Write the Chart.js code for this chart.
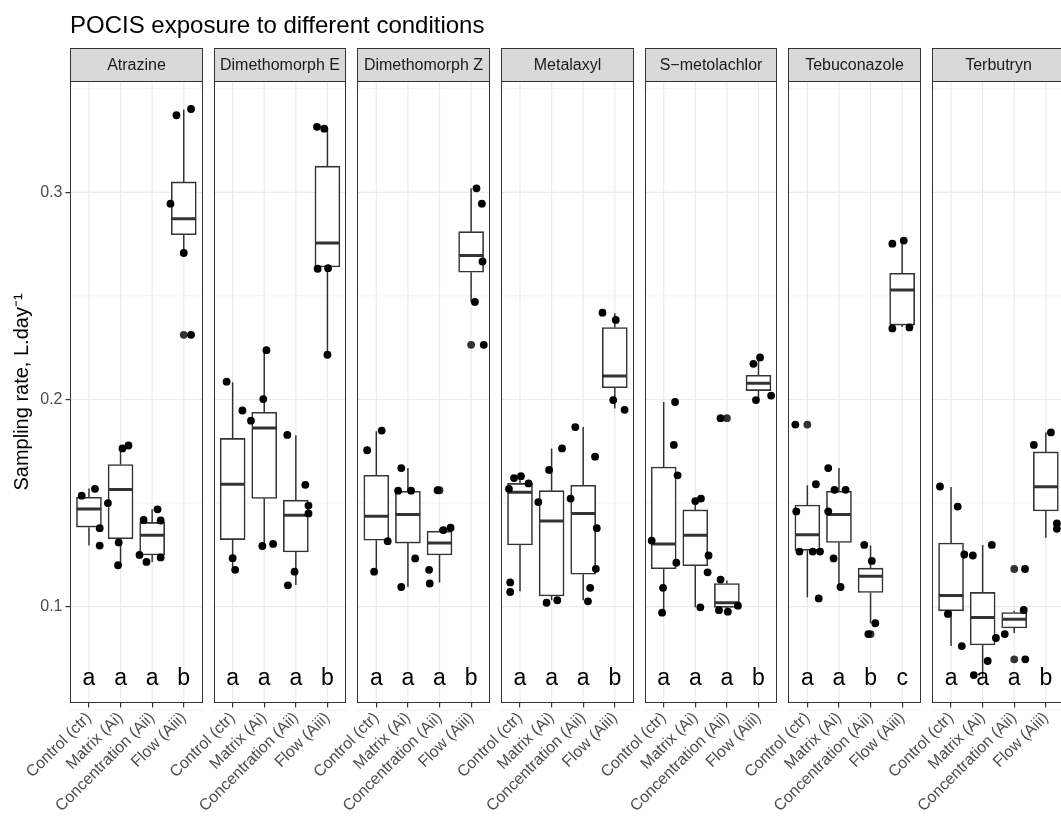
<!DOCTYPE html>
<html>
<head>
<meta charset="utf-8">
<script src="https://cdn.jsdelivr.net/npm/chart.js@4.4.1/dist/chart.umd.min.js"></script>
<style>
  html, body { margin: 0; padding: 0; background: #fff; overflow: hidden; }
  #wrap { width: 1080px; height: 820px; }
</style>
</head>
<body>
<div id="wrap"><canvas id="chart" width="1080" height="820"></canvas></div>
<script>
const chartTitle = 'POCIS exposure to different conditions';
const yTitle = 'Sampling rate, L.day\u207B\u00B9';
const compounds = ['Atrazine', 'Dimethomorph E', 'Dimethomorph Z', 'Metalaxyl', 'S\u2212metolachlor', 'Tebuconazole', 'Terbutryn'];
const conditions = ['Control (ctr)', 'Matrix (Ai)', 'Concentration (Aii)', 'Flow (Aiii)'];
const yTicks = [0.1, 0.2, 0.3];
const yMinorTicks = [0.05, 0.15, 0.25, 0.35];

// significance letters per compound, per condition
const letters = [
  ['a', 'a', 'a', 'b'],
  ['a', 'a', 'a', 'b'],
  ['a', 'a', 'a', 'b'],
  ['a', 'a', 'a', 'b'],
  ['a', 'a', 'a', 'b'],
  ['a', 'a', 'b', 'c'],
  ['a', 'a', 'a', 'b']
];
const letterY = 0.0622;

// box statistics, one row per compound, one column per condition
const q3Values = [
  [0.1528, 0.1686, 0.1407, 0.305],
  [0.1812, 0.1938, 0.1514, 0.3126],
  [0.1634, 0.1557, 0.1364, 0.281],
  [0.1595, 0.156, 0.1586, 0.2347],
  [0.1674, 0.1467, 0.1112, 0.2117],
  [0.1491, 0.1557, 0.1186, 0.2609],
  [0.1307, 0.1069, 0.0972, 0.1747]
];
const medianValues = [
  [0.1471, 0.1566, 0.1345, 0.2872],
  [0.1591, 0.1862, 0.1441, 0.2755],
  [0.1436, 0.1445, 0.1307, 0.2695],
  [0.1552, 0.1414, 0.145, 0.2114],
  [0.1303, 0.1345, 0.1019, 0.2078],
  [0.1347, 0.1445, 0.1147, 0.2528],
  [0.1054, 0.0948, 0.094, 0.1579]
];
const q1Values = [
  [0.1384, 0.1328, 0.125, 0.2795],
  [0.1324, 0.1522, 0.1264, 0.264],
  [0.1321, 0.1307, 0.125, 0.2614],
  [0.1298, 0.1052, 0.1157, 0.2057],
  [0.1183, 0.1198, 0.0997, 0.2043],
  [0.1272, 0.131, 0.1069, 0.2359],
  [0.098, 0.0815, 0.0897, 0.1462]
];
const whiskerHigh = [
  [0.157, 0.1764, 0.147, 0.340],
  [0.2083, 0.2238, 0.1828, 0.331],
  [0.1847, 0.1669, 0.1376, 0.3019],
  [0.163, 0.1764, 0.1867, 0.2416],
  [0.1988, 0.1522, 0.1126, 0.2203],
  [0.1586, 0.1669, 0.1295, 0.2767],
  [0.1578, 0.1298, 0.098, 0.1841]
];
const whiskerLow = [
  [0.1295, 0.120, 0.1216, 0.2707],
  [0.1186, 0.1293, 0.1105, 0.2216],
  [0.1169, 0.1095, 0.1117, 0.2471],
  [0.1074, 0.1031, 0.1031, 0.1957],
  [0.0971, 0.0997, 0.0985, 0.1997],
  [0.1045, 0.1095, 0.092, 0.235],
  [0.081, 0.0662, 0.0873, 0.1333]
];
const outlierValues = [
  [[], [], [], [0.2312]],
  [[], [], [], []],
  [[], [], [0.1562], [0.2264]],
  [[], [], [], []],
  [[], [], [0.191], []],
  [[0.1879], [], [0.0868], []],
  [[], [], [0.1182, 0.0746], []]
];

// jittered replicates: [horizontal jitter in category units, sampling rate]
const replicates = [
  [
    [[0.19, 0.1569], [-0.23, 0.1536], [0.34, 0.1379], [0.34, 0.1295]],
    [[0.06, 0.1764], [0.25, 0.1778], [-0.4, 0.150], [-0.06, 0.131], [-0.08, 0.120]],
    [[0.17, 0.147], [-0.27, 0.1419], [0.27, 0.1416], [-0.4, 0.125], [-0.18, 0.1216], [0.27, 0.1238]],
    [[-0.23, 0.3372], [0.23, 0.3402], [-0.42, 0.2945], [0, 0.2707], [0.23, 0.2312]]
  ],
  [
    [[-0.19, 0.2086], [0.31, 0.1947], [0, 0.1234], [0.08, 0.1178]],
    [[0.07, 0.2238], [-0.03, 0.2002], [-0.42, 0.1898], [-0.06, 0.1293], [0.28, 0.1303]],
    [[-0.27, 0.1829], [0.3, 0.1588], [0.4, 0.1488], [0.4, 0.145], [-0.04, 0.1169], [-0.25, 0.1103]],
    [[-0.33, 0.3316], [-0.1, 0.3307], [-0.31, 0.2631], [0.02, 0.2634], [0, 0.2216]]
  ],
  [
    [[0.17, 0.185], [-0.29, 0.1755], [0.36, 0.1316], [-0.07, 0.1169]],
    [[-0.21, 0.1669], [-0.31, 0.156], [0.1, 0.156], [0.23, 0.1233], [-0.21, 0.1095]],
    [[-0.06, 0.1562], [0.35, 0.1381], [0.12, 0.137], [-0.33, 0.1178], [-0.31, 0.1112]],
    [[0.17, 0.3019], [0.34, 0.2945], [0.36, 0.2666], [0.12, 0.2471], [0.4, 0.2264]]
  ],
  [
    [[-0.19, 0.1621], [0.03, 0.163], [0.27, 0.1595], [-0.35, 0.1569], [-0.31, 0.1117], [-0.31, 0.1071]],
    [[0.33, 0.1764], [-0.08, 0.166], [-0.42, 0.1505], [-0.16, 0.1019], [0.18, 0.1031]],
    [[-0.25, 0.1867], [0.375, 0.1724], [-0.4, 0.1522], [0.43, 0.1379], [0.4, 0.1183], [0.22, 0.1091], [0.15, 0.1026]],
    [[-0.39, 0.2419], [0.03, 0.2384], [-0.05, 0.1997], [0.31, 0.195]]
  ],
  [
    [[0.36, 0.1988], [0.32, 0.1781], [0.44, 0.1634], [-0.38, 0.1319], [0.4, 0.1212], [-0.02, 0.1091], [-0.05, 0.0971]],
    [[0, 0.151], [0.18, 0.1522], [0.42, 0.1247], [0.39, 0.1166], [0.16, 0.0997]],
    [[-0.2, 0.191], [-0.2, 0.1131], [-0.25, 0.0983], [0.03, 0.0976], [0.35, 0.1005]],
    [[0.05, 0.2203], [-0.16, 0.2172], [-0.08, 0.1997], [0.4, 0.2019]]
  ],
  [
    [[-0.38, 0.1879], [0.27, 0.1591], [-0.35, 0.146], [-0.25, 0.1266], [0.17, 0.1266], [0.4, 0.1266], [0.36, 0.104]],
    [[-0.34, 0.1669], [-0.14, 0.1564], [0.21, 0.1564], [-0.34, 0.146], [-0.17, 0.1233], [0.05, 0.1095]],
    [[-0.2, 0.1298], [0.04, 0.1221], [0.15, 0.092], [-0.07, 0.0868]],
    [[-0.31, 0.2752], [0.05, 0.2767], [-0.31, 0.2343], [0.23, 0.2348]]
  ],
  [
    [[-0.35, 0.158], [0.21, 0.1483], [0.42, 0.1252], [-0.1, 0.0965], [0.34, 0.081]],
    [[-0.31, 0.1247], [0.29, 0.1298], [0.42, 0.0849], [0.16, 0.0738], [-0.28, 0.067]],
    [[0.34, 0.1182], [0.3, 0.0984], [-0.3, 0.0868], [0.35, 0.0746]],
    [[-0.38, 0.1781], [0.16, 0.1841], [0.35, 0.1402], [0.35, 0.1376]]
  ]
];

// facet layout, in category units on the shared x axis
const PANEL_STEP = 4.547;
const FONT = "'Liberation Sans', Arial, Helvetica, sans-serif";

const slot = (k, i) => k * PANEL_STEP + i + 1;

const tickPositions = [];
const boxes = [];
const medians = [];
const whiskers = [];
const outliers = [];
const points = [];

compounds.forEach((name, k) => {
  conditions.forEach((cond, i) => {
    const xPos = slot(k, i);
    tickPositions.push(xPos);
    boxes.push({ x: xPos, y: [q1Values[k][i], q3Values[k][i]] });
    medians.push({ x: xPos, y: medianValues[k][i] });
    whiskers.push(
      { x: xPos, y: whiskerLow[k][i] }, { x: xPos, y: q1Values[k][i] }, { x: xPos, y: null },
      { x: xPos, y: q3Values[k][i] }, { x: xPos, y: whiskerHigh[k][i] }, { x: xPos, y: null }
    );
    outlierValues[k][i].forEach(v => outliers.push({ x: xPos, y: v }));
    replicates[k][i].forEach(([dx, v]) => points.push({ x: xPos + dx, y: v }));
  });
});

const hLine = (ctx, x1, x2, yy) => {
  ctx.beginPath();
  ctx.moveTo(x1, yy);
  ctx.lineTo(x2, yy);
  ctx.stroke();
};

const facetPlugin = {
  id: 'facets',
  beforeDatasetsDraw(chart) {
    const { ctx, chartArea, scales: { x, y } } = chart;
    ctx.save();
    ctx.strokeStyle = '#ebebeb';
    compounds.forEach((name, k) => {
      const left = x.getPixelForValue(k * PANEL_STEP + 0.4);
      const right = x.getPixelForValue(k * PANEL_STEP + 4.6);
      ctx.lineWidth = 0.6;
      yMinorTicks.forEach(v => hLine(ctx, left, right, y.getPixelForValue(v)));
      ctx.lineWidth = 1.2;
      yTicks.forEach(v => hLine(ctx, left, right, y.getPixelForValue(v)));
      conditions.forEach((c, i) => {
        const px = x.getPixelForValue(slot(k, i));
        ctx.beginPath();
        ctx.moveTo(px, chartArea.top);
        ctx.lineTo(px, chartArea.bottom);
        ctx.stroke();
      });
    });
    ctx.restore();
  },
  afterDatasetsDraw(chart) {
    const { ctx, chartArea, scales: { x, y } } = chart;
    ctx.save();
    // letters
    ctx.fillStyle = '#000';
    ctx.font = `23px ${FONT}`;
    ctx.textAlign = 'center';
    ctx.textBaseline = 'alphabetic';
    letters.forEach((row, k) => {
      row.forEach((l, i) => ctx.fillText(l, x.getPixelForValue(slot(k, i)), y.getPixelForValue(letterY)));
    });

    const stripTop = 48;
    compounds.forEach((name, k) => {
      const left = Math.round(x.getPixelForValue(k * PANEL_STEP + 0.4)) + 0.5;
      const right = Math.round(x.getPixelForValue(k * PANEL_STEP + 4.6)) - 0.5;
      const top = Math.round(chartArea.top) + 0.5;
      const bottom = Math.round(chartArea.bottom) - 0.5;
      ctx.strokeStyle = '#333333';
      ctx.lineWidth = 1;
      ctx.strokeRect(left, top, right - left, bottom - top);
      // strip
      ctx.fillStyle = '#d9d9d9';
      ctx.fillRect(left, stripTop + 0.5, right - left, top - stripTop - 0.5);
      ctx.strokeRect(left, stripTop + 0.5, right - left, top - stripTop - 0.5);
      ctx.fillStyle = '#1a1a1a';
      ctx.font = `16px ${FONT}`;
      ctx.textAlign = 'center';
      ctx.textBaseline = 'middle';
      ctx.fillText(name, (left + right) / 2, (stripTop + top) / 2 + 1);
    });

    ctx.fillStyle = '#000';
    ctx.font = `24px ${FONT}`;
    ctx.textAlign = 'left';
    ctx.textBaseline = 'alphabetic';
    ctx.fillText(chartTitle, chartArea.left, 33);
    ctx.restore();
  }
};

new Chart(document.getElementById('chart'), {
  type: 'scatter',
  data: {
    datasets: [
      {
        type: 'scatter',
        data: points,
        pointRadius: 3.9,
        backgroundColor: '#000',
        borderWidth: 0
      },
      {
        type: 'scatter',
        data: outliers,
        pointRadius: 3.9,
        backgroundColor: '#333333',
        borderWidth: 0
      },
      {
        type: 'scatter',
        data: medians,
        pointStyle: 'line',
        pointRadius: 12.2,
        borderColor: '#333333',
        borderWidth: 3
      },
      {
        type: 'bar',
        data: boxes,
        barThickness: 25,
        backgroundColor: '#ffffff',
        borderColor: '#333333',
        borderWidth: 1.6,
        borderSkipped: false,
        grouped: false
      },
      {
        type: 'line',
        data: whiskers,
        borderColor: '#333333',
        borderWidth: 1.5,
        pointRadius: 0,
        spanGaps: false,
        fill: false
      }
    ]
  },
  options: {
    responsive: false,
    animation: false,
    events: [],
    layout: { padding: { left: 0, right: 13, top: 81, bottom: 0 } },
    plugins: {
      legend: { display: false },
      tooltip: { enabled: false }
    },
    scales: {
      x: {
        type: 'linear',
        min: 0.4,
        max: 6 * PANEL_STEP + 4.6,
        offset: false,
        border: { display: false },
        grid: { offset: false, drawOnChartArea: false, drawTicks: true, tickLength: 4.5, lineWidth: 1.2, color: '#333333' },
        afterBuildTicks: (axis) => { axis.ticks = tickPositions.map(v => ({ value: v })); },
        afterFit: (axis) => { axis.height = 117; },
        ticks: {
          autoSkip: false,
          maxRotation: 45,
          minRotation: 45,
          padding: 1,
          color: '#4d4d4d',
          font: { family: FONT, size: 16 },
          callback: (value, index) => conditions[index % conditions.length]
        }
      },
      y: {
        type: 'linear',
        min: 0.05352,
        max: 0.35372,
        border: { display: false },
        grid: { drawOnChartArea: false, drawTicks: true, tickLength: 4.5, lineWidth: 1.2, color: '#333333' },
        afterBuildTicks: (axis) => { axis.ticks = yTicks.map(v => ({ value: v })); },
        afterFit: (axis) => { axis.width = 70; },
        ticks: {
          padding: 3,
          color: '#4d4d4d',
          font: { family: FONT, size: 16 },
          callback: (value) => value.toFixed(1)
        },
        title: {
          display: true,
          text: yTitle,
          color: '#000',
          font: { family: FONT, size: 20 },
          padding: { top: 10, bottom: 0 }
        }
      }
    }
  },
  plugins: [facetPlugin]
});
</script>
</body>
</html>
